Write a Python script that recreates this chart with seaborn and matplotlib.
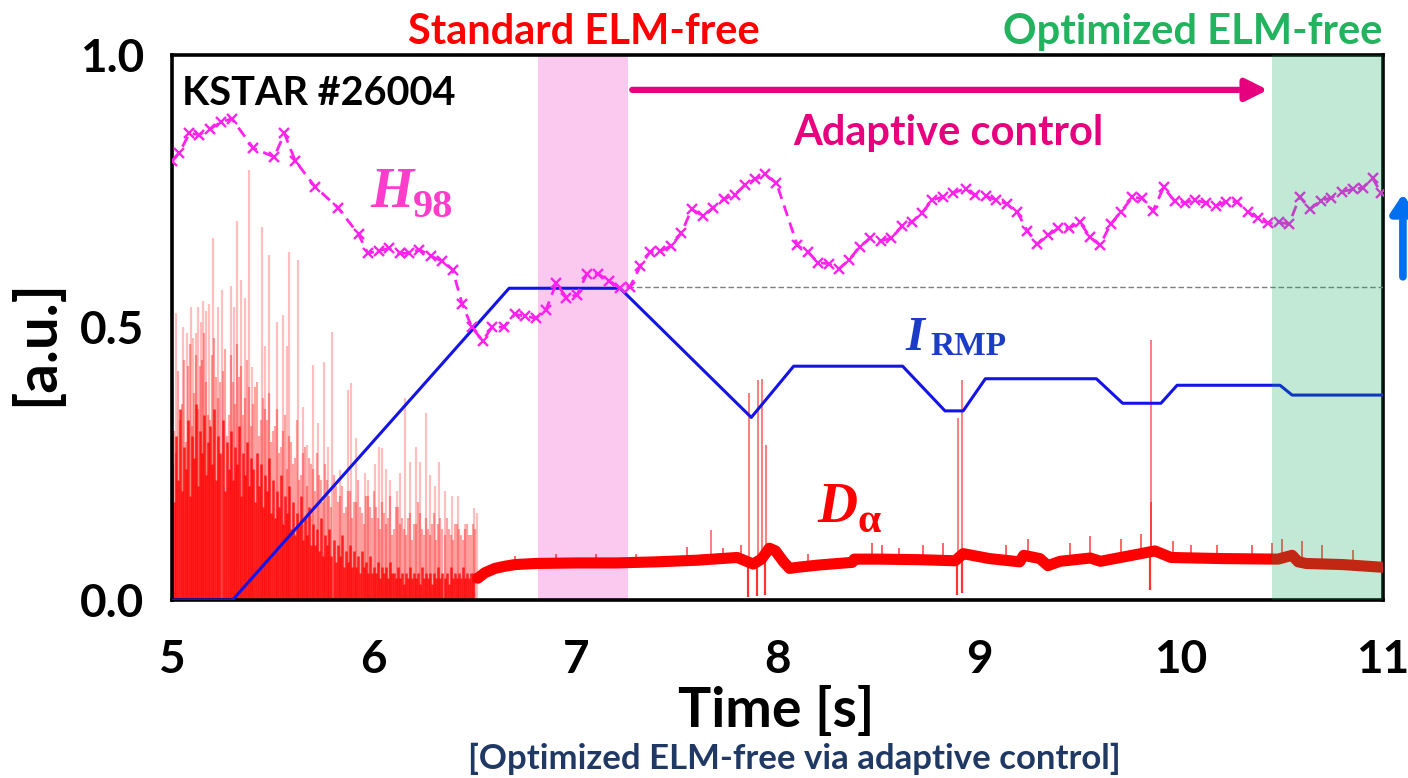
import numpy as np
import pandas as pd
import matplotlib
matplotlib.use("Agg")
import matplotlib.pyplot as plt
import seaborn as sns

# ---------------- data ----------------
# H98 confinement factor (dashed magenta with x markers)
h98_t = [5.00, 5.036, 5.086, 5.135, 5.188, 5.243, 5.296, 5.403, 5.506, 5.557, 5.610, 5.709, 5.822,
         5.924, 5.970, 6.023, 6.073, 6.127, 6.172, 6.226, 6.283, 6.337, 6.390, 6.437, 6.486,
         6.539, 6.585, 6.643, 6.697, 6.750, 6.803, 6.853, 6.904, 6.954, 7.007, 7.056, 7.111,
         7.167, 7.218, 7.268, 7.321, 7.367, 7.420, 7.473, 7.524, 7.574, 7.632, 7.681, 7.737,
         7.788, 7.838, 7.887, 7.937, 7.995, 8.098, 8.152, 8.202, 8.254, 8.304, 8.353, 8.408,
         8.458, 8.511, 8.564, 8.618, 8.668, 8.717, 8.767, 8.822, 8.871, 8.932, 8.977, 9.031,
         9.084, 9.135, 9.188, 9.238, 9.288, 9.342, 9.392, 9.444, 9.499, 9.549, 9.598, 9.651,
         9.701, 9.759, 9.808, 9.861, 9.913, 9.968, 10.018, 10.068, 10.122, 10.172, 10.221,
         10.276, 10.329, 10.382, 10.431, 10.483, 10.535, 10.588, 10.639, 10.692, 10.745,
         10.797, 10.850, 10.899, 10.949, 10.99]
h98_v = [0.805, 0.821, 0.856, 0.854, 0.864, 0.877, 0.883, 0.829, 0.813, 0.856, 0.806, 0.758, 0.720,
         0.671, 0.636, 0.641, 0.645, 0.636, 0.636, 0.643, 0.631, 0.622, 0.606, 0.544, 0.500,
         0.476, 0.500, 0.501, 0.524, 0.521, 0.517, 0.533, 0.581, 0.555, 0.560, 0.599, 0.598,
         0.586, 0.572, 0.574, 0.613, 0.638, 0.640, 0.650, 0.673, 0.717, 0.705, 0.720, 0.736,
         0.744, 0.761, 0.772, 0.781, 0.765, 0.651, 0.638, 0.619, 0.617, 0.607, 0.624, 0.648,
         0.664, 0.659, 0.664, 0.686, 0.694, 0.711, 0.734, 0.740, 0.747, 0.755, 0.743, 0.741,
         0.734, 0.727, 0.712, 0.677, 0.653, 0.670, 0.682, 0.682, 0.693, 0.666, 0.651, 0.690,
         0.712, 0.739, 0.737, 0.714, 0.757, 0.732, 0.729, 0.734, 0.729, 0.723, 0.731,
         0.731, 0.712, 0.701, 0.691, 0.693, 0.690, 0.740, 0.717, 0.733, 0.738,
         0.749, 0.754, 0.756, 0.774, 0.747]

# RMP coil current (blue)
irmp_t = [5.00, 5.30, 6.67, 7.22, 7.87, 8.08, 8.62, 8.83, 8.92, 9.03, 9.58, 9.71, 9.90,
          9.98, 10.49, 10.55, 11.00]
irmp_v = [0.000, 0.000, 0.572, 0.572, 0.335, 0.429, 0.429, 0.347, 0.347, 0.406, 0.406,
          0.361, 0.361, 0.394, 0.394, 0.376, 0.376]

# D-alpha: ELM spikes (tall, light)
elm_tall_t = [5.020, 5.056, 5.073, 5.094, 5.106, 5.119, 5.130, 5.142, 5.155, 5.169, 5.183,
              5.202, 5.230, 5.246, 5.291, 5.309, 5.321, 5.341, 5.362, 5.382, 5.395, 5.445,
              5.461, 5.478, 5.522, 5.552, 5.569, 5.580, 5.623, 5.648, 5.668, 5.696, 5.722,
              5.754, 5.775, 5.795, 5.833, 5.871, 5.888, 5.911, 5.954, 5.973, 6.007, 6.023,
              6.040, 6.060, 6.081, 6.114, 6.131, 6.152, 6.180, 6.208, 6.230, 6.258, 6.279,
              6.301, 6.324, 6.354, 6.387, 6.417, 6.453, 6.494, 6.511]
elm_tall_v = [0.527, 0.500, 0.490, 0.538, 0.480, 0.490, 0.538, 0.510, 0.549, 0.530, 0.544,
              0.664, 0.538, 0.569, 0.576, 0.538, 0.696, 0.587, 0.554, 0.789, 0.428, 0.685,
              0.466, 0.633, 0.511, 0.523, 0.466, 0.639, 0.624, 0.355, 0.284, 0.431, 0.324,
              0.437, 0.280, 0.492, 0.239, 0.385, 0.398, 0.297, 0.233, 0.220, 0.250, 0.281,
              0.278, 0.240, 0.220, 0.200, 0.233, 0.370, 0.253, 0.280, 0.253, 0.343, 0.230,
              0.210, 0.253, 0.200, 0.190, 0.190, 0.140, 0.168, 0.160]

# D-alpha: medium ELM spikes (5.00 .. 6.50 every 0.02 s, and 5.01 .. 6.49 every 0.02 s)
elm_mid_t = [round(5.00 + 0.02 * i, 2) for i in range(76)]
elm_mid_v = [0.39, 0.27, 0.33, 0.44, 0.43, 0.32, 0.45, 0.43, 0.49, 0.34, 0.45, 0.41, 0.40,
             0.46, 0.34, 0.40, 0.47, 0.43, 0.37, 0.39, 0.36, 0.40, 0.33, 0.35, 0.38, 0.31,
             0.35, 0.28, 0.34, 0.30, 0.25, 0.33, 0.23, 0.28, 0.26, 0.24, 0.27, 0.22, 0.25,
             0.19, 0.23, 0.18, 0.21, 0.17, 0.20, 0.18, 0.22, 0.16, 0.19, 0.17, 0.20,
             0.15, 0.18, 0.14, 0.19, 0.13, 0.17, 0.15, 0.12, 0.16, 0.14, 0.18, 0.13, 0.15,
             0.12, 0.16, 0.14, 0.13, 0.15, 0.12, 0.14, 0.13, 0.11, 0.14, 0.12, 0.13]
elm_mid2_t = [round(5.01 + 0.02 * i, 2) for i in range(75)]
elm_mid2_v = [0.31, 0.42, 0.36, 0.29, 0.47, 0.38, 0.35, 0.44, 0.40, 0.33, 0.48, 0.37, 0.42,
              0.30, 0.45, 0.36, 0.41, 0.34, 0.44, 0.32, 0.39, 0.30, 0.37, 0.33, 0.29,
              0.32, 0.27, 0.31, 0.24, 0.29, 0.26, 0.22, 0.27, 0.21, 0.25, 0.20, 0.23, 0.18,
              0.22, 0.17, 0.21, 0.19, 0.16, 0.20, 0.15, 0.18, 0.17, 0.14, 0.19, 0.15,
              0.17, 0.13, 0.16, 0.15, 0.12, 0.17, 0.14, 0.13, 0.15, 0.11, 0.14, 0.16, 0.12,
              0.13, 0.14, 0.11, 0.15, 0.12, 0.13, 0.11, 0.14, 0.12, 0.13, 0.12, 0.14]

# D-alpha: dense ELM core (5.00 .. 6.49 every 0.01 s)
elm_core_t = [round(5.00 + 0.01 * i, 2) for i in range(150)]
elm_core_v = [0.25, 0.18, 0.30, 0.22, 0.35, 0.20, 0.28, 0.24, 0.33, 0.19,
              0.30, 0.26, 0.36, 0.21, 0.31, 0.27, 0.34, 0.23, 0.29, 0.32,
              0.25, 0.35, 0.22, 0.30, 0.27, 0.33, 0.20, 0.29, 0.24, 0.31,
              0.22, 0.28, 0.25, 0.32, 0.19, 0.27, 0.23, 0.29, 0.21, 0.26,
              0.24, 0.18, 0.27, 0.21, 0.25, 0.17, 0.23, 0.20, 0.26, 0.16,
              0.22, 0.15, 0.20, 0.17, 0.23, 0.14, 0.19, 0.16, 0.21, 0.13,
              0.18, 0.12, 0.16, 0.14, 0.19, 0.11, 0.15, 0.12, 0.17, 0.10,
              0.14, 0.10, 0.13, 0.09, 0.15, 0.08, 0.12, 0.10, 0.13, 0.08,
              0.11, 0.07, 0.10, 0.08, 0.12, 0.06, 0.09, 0.07, 0.10, 0.06,
              0.09, 0.06, 0.08, 0.05, 0.09, 0.06, 0.07, 0.05, 0.08, 0.05,
              0.06, 0.05, 0.07, 0.04, 0.06, 0.05, 0.06, 0.04, 0.07, 0.05,
              0.05, 0.04, 0.06, 0.04, 0.05, 0.03, 0.05, 0.04, 0.06, 0.04,
              0.05, 0.04, 0.05, 0.03, 0.06, 0.04, 0.05, 0.04, 0.05, 0.03,
              0.05, 0.04, 0.06, 0.04, 0.05, 0.04, 0.05, 0.03, 0.06, 0.04,
              0.05, 0.04, 0.05, 0.04, 0.06, 0.04, 0.05, 0.04, 0.05, 0.05]

# D-alpha: ELM-free baseline (band centre)
base_t = [6.515, 6.55, 6.60, 6.65, 6.70, 6.80, 7.00, 7.20, 7.40, 7.60, 7.80, 7.84, 7.88,
          7.92, 7.96, 7.99, 8.03, 8.06, 8.10, 8.20, 8.30, 8.37, 8.38, 8.50, 8.70, 8.88,
          8.92, 8.95, 9.05, 9.20, 9.22, 9.30, 9.34, 9.40, 9.55, 9.60, 9.80, 9.84, 9.87,
          9.95, 10.20, 10.48, 10.55, 10.58, 10.62, 10.80, 11.00]
base_v = [0.040, 0.050, 0.058, 0.062, 0.065, 0.067, 0.068, 0.068, 0.070, 0.073, 0.078, 0.072,
          0.066, 0.075, 0.095, 0.090, 0.070, 0.058, 0.060, 0.064, 0.067, 0.069, 0.075, 0.075,
          0.074, 0.072, 0.085, 0.083, 0.076, 0.070, 0.082, 0.076, 0.063, 0.071, 0.077, 0.071,
          0.085, 0.088, 0.090, 0.078, 0.076, 0.075, 0.082, 0.070, 0.067, 0.065, 0.060]

# D-alpha: small fuzz spikes on the ELM-free baseline
fuzz_t = [6.70, 6.90, 7.10, 7.30, 7.55, 7.73, 7.82, 8.15, 8.47, 8.52, 8.60, 8.72, 8.82,
          9.13, 9.24, 9.45, 9.55, 9.70, 9.80, 9.96, 10.05, 10.18, 10.35, 10.45, 10.50,
          10.60, 10.70, 10.85]
fuzz_v = [0.080, 0.085, 0.084, 0.085, 0.098, 0.096, 0.100, 0.085, 0.105, 0.100, 0.095,
          0.100, 0.105, 0.100, 0.112, 0.105, 0.118, 0.112, 0.122, 0.108, 0.100, 0.100,
          0.100, 0.105, 0.112, 0.108, 0.100, 0.092]

# D-alpha: isolated spikes and dips in the ELM-free phase
spike_t = [7.67, 7.858, 7.902, 7.924, 7.945, 8.894, 8.916, 9.850, 9.852]
spike_v = [0.128, 0.380, 0.404, 0.406, 0.284, 0.334, 0.404, 0.477, 0.180]
dip_t = [7.855, 7.898, 7.940, 8.890, 8.912, 9.848]
dip_v = [0.006, 0.008, 0.010, 0.010, 0.012, 0.018]

h98_ref = 0.574
pink_span = (6.815, 7.26)
green_span = (10.45, 11.0)
x_ticks = [5, 6, 7, 8, 9, 10, 11]
y_ticks = [0.0, 0.5, 1.0]
y_ticklabels = ["0.0", "0.5", "1.0"]

# ---------------- style ----------------
sns.set_theme(style="white")
plt.rcParams["font.family"] = ["Lato", "DejaVu Sans"]
plt.rcParams["font.weight"] = "bold"

fig = plt.figure(figsize=(14.08, 7.78), dpi=100)
ax = fig.add_axes([0.1222, 0.2288, 0.8600, 0.7005])

ax.set_xlim(5, 11)
ax.set_ylim(0, 1)

# shaded regions
ax.axvspan(*pink_span, color="#FBC8EF", zorder=0, lw=0)

# D-alpha
red = "#FF0000"
ax.vlines(elm_tall_t, 0, elm_tall_v, color=red, alpha=0.25, lw=1.6, zorder=2)
ax.vlines(elm_mid_t, 0, elm_mid_v, color=red, alpha=0.35, lw=1.6, zorder=2)
ax.vlines(elm_mid2_t, 0, elm_mid2_v, color=red, alpha=0.35, lw=1.6, zorder=2)
ax.vlines(elm_core_t, 0, elm_core_v, color=red, alpha=0.8, lw=1.8, zorder=2)
ax.vlines(fuzz_t, np.interp(fuzz_t, base_t, base_v), fuzz_v, color=red, alpha=0.7,
          lw=1.2, zorder=2)
ax.vlines(spike_t, np.interp(spike_t, base_t, base_v), spike_v, color=red, alpha=0.55,
          lw=1.3, zorder=2)
ax.vlines(dip_t, dip_v, np.interp(dip_t, base_t, base_v), color=red, alpha=0.8, lw=1.6,
          zorder=2)
base_df = pd.DataFrame({"t": base_t, "v": base_v})
sns.lineplot(data=base_df, x="t", y="v", ax=ax, color=red, lw=8, zorder=3,
             estimator=None)

# I_RMP
irmp_df = pd.DataFrame({"t": irmp_t, "v": irmp_v})
sns.lineplot(data=irmp_df, x="t", y="v", ax=ax, color="#1414E6", lw=2.2, zorder=4,
             estimator=None)

# reference dashed line
ax.hlines(h98_ref, pink_span[1], 11, color="#808080", lw=1.0, ls=(0, (4, 2)), zorder=3)

# H98
h98_df = pd.DataFrame({"t": h98_t, "v": h98_v})
sns.lineplot(data=h98_df, x="t", y="v", ax=ax, color="#FF22EE", lw=2.0,
             linestyle=(0, (4, 2.5)), marker="x", markersize=7.5, markeredgewidth=1.7,
             markeredgecolor="#FF22EE", zorder=5, estimator=None)

# green span on top (tints traces beneath)
ax.axvspan(*green_span, color="#00A754", alpha=0.24, zorder=6, lw=0)

# axes styling
for s in ax.spines.values():
    s.set_linewidth(2.6)
    s.set_color("black")
ax.set_xticks(x_ticks)
ax.set_xticklabels([str(v) for v in x_ticks])
ax.set_yticks(y_ticks)
ax.set_yticklabels(y_ticklabels)
ax.tick_params(axis="both", direction="out", length=16, width=2.4, color="black",
               labelsize=33, labelcolor="black")
ax.tick_params(axis="x", pad=12)
ax.tick_params(axis="y", pad=4)
for lab in ax.get_xticklabels() + ax.get_yticklabels():
    lab.set_fontweight("bold")
ax.set_xlabel("")
ax.set_ylabel("")

fig.text(0.551, 0.066, "Time [s]", ha="center", va="baseline", fontsize=40,
         fontweight="bold", color="black")
fig.text(0.026, 0.56, "[a.u.]", ha="center", va="center", rotation=90, fontsize=42,
         fontweight="bold", color="black")
fig.text(0.564, 0.012, "[Optimized ELM-free via adaptive control]", ha="center",
         va="baseline", fontsize=25, fontweight="bold", color="#1F3864")

# annotations
ax.text(5.05, 0.930, "KSTAR #26004", ha="left", va="center", fontsize=28.5,
        fontweight="bold", color="black", zorder=7)
ax.text(7.043, 1.042, "Standard ELM-free", ha="center", va="center", fontsize=30,
        fontweight="bold", color="#FF0000", clip_on=False)
ax.text(10.058, 1.042, "Optimized ELM-free", ha="center", va="center", fontsize=30,
        fontweight="bold", color="#22B35E", clip_on=False)
ax.text(8.848, 0.857, "Adaptive control", ha="center", va="center", fontsize=30,
        fontweight="bold", color="#E6007E", zorder=7)

ax.annotate("", xy=(10.43, 0.936), xytext=(7.28, 0.936),
            arrowprops=dict(arrowstyle="-|>,head_length=1.1,head_width=0.55",
                            color="#E6007E", lw=4.5, shrinkA=0, shrinkB=0), zorder=7)
ax.annotate("", xy=(11.099, 0.745), xytext=(11.099, 0.593), xycoords="data",
            arrowprops=dict(arrowstyle="-|>,head_length=0.9,head_width=0.6",
                            color="#0070F0", lw=5.5, shrinkA=0, shrinkB=0),
            annotation_clip=False, zorder=7)

serif = ["Liberation Serif", "DejaVu Serif"]
ax.text(5.982, 0.722, "H", fontsize=40, fontweight="bold", fontstyle="italic",
        family=serif, color="#FF3DCB", ha="left", va="baseline", zorder=7)
ax.text(6.195, 0.703, "98", fontsize=29, fontweight="bold", family=serif,
        color="#FF3DCB", ha="left", va="baseline", zorder=7)
ax.text(8.634, 0.459, "I", fontsize=35, fontweight="bold", fontstyle="italic",
        family=serif, color="#1A3CC8", ha="left", va="baseline", zorder=7)
ax.text(8.759, 0.4495, "RMP", fontsize=24, fontweight="bold", family=serif,
        color="#1A3CC8", ha="left", va="baseline", zorder=7)
ax.text(8.197, 0.1437, "D", fontsize=40, fontweight="bold", fontstyle="italic",
        family=serif, color="#FF0000", ha="left", va="baseline", zorder=7)
ax.text(8.395, 0.125, "α", fontsize=30, fontweight="bold", family=serif,
        color="#FF0000", ha="left", va="baseline", zorder=7)

fig.savefig("out.png", dpi=100)
